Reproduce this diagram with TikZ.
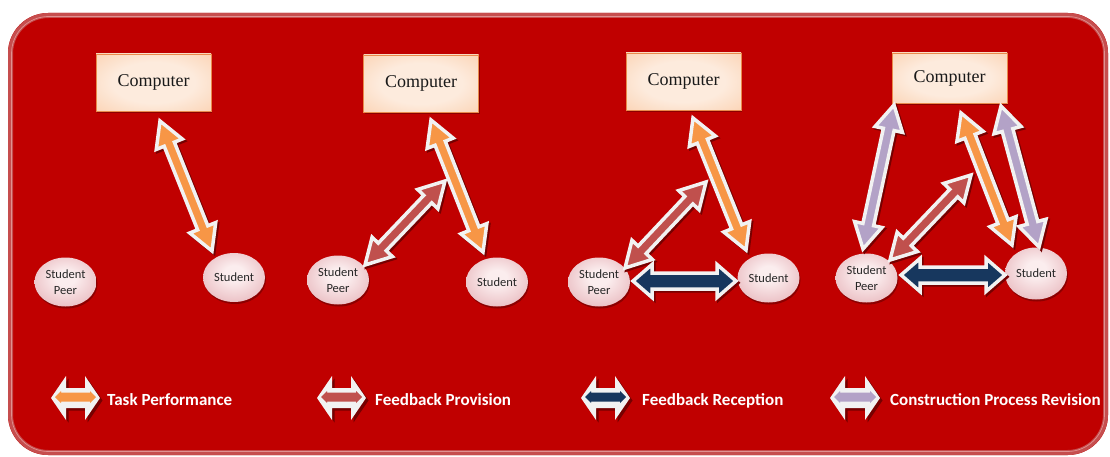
\documentclass[tikz,border=0pt]{standalone}
\usepackage{fontspec}
\setmainfont{Liberation Serif}
\newfontfamily\calib{Carlito}
\usetikzlibrary{calc,shapes.geometric,shadows}

\definecolor{bgred}{HTML}{C00000}
\definecolor{rimred}{RGB}{198,78,78}
\definecolor{rimlight}{RGB}{225,145,145}
\definecolor{arrowwhite}{HTML}{F2F2F2}
\definecolor{taskor}{HTML}{F79646}
\definecolor{fbprov}{HTML}{C0504D}
\definecolor{fbrec}{HTML}{17375E}
\definecolor{cprev}{HTML}{B3A2C7}
\definecolor{shadowred}{RGB}{118,0,0}
\definecolor{ellC}{HTML}{FBEDEE}
\definecolor{ellM}{HTML}{EDC6CA}
\definecolor{ellO}{HTML}{C47A84}
\definecolor{boxC}{HTML}{FDEBDD}
\definecolor{boxM}{HTML}{FBD2B2}
\definecolor{boxO}{HTML}{F7B47E}
\definecolor{boxedge}{HTML}{E98A4C}

\pgfdeclareradialshading{pinkball}{\pgfpoint{0bp}{5bp}}{color(0bp)=(ellC); color(8bp)=(ellC); color(26bp)=(ellM); color(44bp)=(ellO); color(60bp)=(ellO)}
\pgfdeclareradialshading{peachbox}{\pgfpoint{0bp}{0bp}}{color(0bp)=(boxC); color(18bp)=(boxC); color(38bp)=(boxM); color(52bp)=(boxO); color(72bp)=(boxO)}

\newcommand\compfont{\fontsize{18}{20}\selectfont}
\newcommand\studfont{\calib\fontsize{12.5}{15.5}\selectfont}
\newcommand\legfont{\calib\bfseries\fontsize{17}{20}\selectfont}

% double-headed block arrow polygon: #1 tip A, #2 tip B, #3 head length, #4 half head width, #5 half shaft width
\newcommand\arrowpoly[5]{(#1) -- ($(#1)!#3!(#2)!#4!90:(#2)$) -- ($(#1)!#3!(#2)!#5!90:(#2)$) -- ($(#2)!#3!(#1)!#5!-90:(#1)$) -- ($(#2)!#3!(#1)!#4!-90:(#1)$) -- (#2) -- ($(#2)!#3!(#1)!#4!90:(#1)$) -- ($(#2)!#3!(#1)!#5!90:(#1)$) -- ($(#1)!#3!(#2)!#5!-90:(#2)$) -- ($(#1)!#3!(#2)!#4!-90:(#2)$) -- cycle}

\newcommand\dblarrow[6]{%
  \begin{scope}[transform canvas={shift={(1.8,1.8)}}]
    \filldraw[shadowred, line width=3.5pt, line join=miter] \arrowpoly{#2}{#3}{#4}{#5}{#6};
  \end{scope}
  \filldraw[fill=#1, draw=arrowwhite, line width=3.5pt, line join=miter] \arrowpoly{#2}{#3}{#4}{#5}{#6};}

\newcommand\legarrow[5]{%
  \begin{scope}[transform canvas={shift={(2.5,2.5)}}]
    \fill[shadowred] \arrowpoly{#2}{#3}{15pt}{22pt}{10pt};
  \end{scope}
  \fill[arrowwhite] \arrowpoly{#2}{#3}{15pt}{22pt}{10pt};
  \fill[#1] \arrowpoly{#4}{#5}{6pt}{6pt}{4.5pt};}

\tikzset{
  comp/.style={rectangle, minimum width=115pt, minimum height=57pt, inner sep=0pt,
    shade, shading=peachbox, draw=boxedge, line width=0.5pt, font=\compfont, text=black!90,
    drop shadow={shadow xshift=1.2pt, shadow yshift=-1.8pt, fill=shadowred, opacity=0.7}},
  stud/.style={ellipse, minimum width=62pt, minimum height=49pt, inner sep=0pt,
    shade, shading=pinkball, align=center, font=\studfont, text=black!85,
    drop shadow={shadow xshift=1pt, shadow yshift=-2pt, fill=shadowred, opacity=0.7}},
  legtext/.style={font=\legfont, text=white, inner sep=0pt, anchor=base west}
}

\begin{document}
\begin{tikzpicture}[x=1pt, y=-1pt]
\useasboundingbox (0,0) rectangle (1110,457);
\fill[white] (0,0) rectangle (1110,457);

% background panel
\fill[bgred, rounded corners=40pt] (8,13) rectangle (1108,455);
\draw[rimred, line width=5pt, rounded corners=38pt] (10.5,15.5) rectangle (1105.5,452.5);
\draw[rimlight, line width=0.7pt, rounded corners=37pt] (11.5,16.5) rectangle (1104.5,451.5);

% ---------- panel 1 ----------
\node[comp] (c1) at (153.5,82.5) {Computer};
\node[stud] (p1) at (65.5,282) {Student\\Peer};
\node[stud] (s1) at (234,277.5) {Student};
\coordinate (o1a) at (160,121);
\coordinate (o1b) at (212,251);
\dblarrow{taskor}{o1a}{o1b}{25pt}{14pt}{5.5pt}

% ---------- panel 2 ----------
\node[comp] (c2) at (421,83.5) {Computer};
\node[stud] (p2) at (338,280) {Student\\Peer};
\node[stud] (s2) at (497,282) {Student};
\coordinate (b2a) at (445,181);
\coordinate (b2b) at (365,265);
\coordinate (o2a) at (431,120);
\coordinate (o2b) at (483,252);
\dblarrow{fbprov}{b2a}{b2b}{25pt}{14pt}{5.5pt}
\dblarrow{taskor}{o2a}{o2b}{25pt}{14pt}{5.5pt}

% ---------- panel 3 ----------
\node[comp] (c3) at (683.5,81.5) {Computer};
\node[stud] (p3) at (599,282) {Student\\Peer};
\node[stud] (s3) at (768.5,278) {Student};
\coordinate (b3a) at (706,182);
\coordinate (b3b) at (625,268);
\coordinate (o3a) at (693,118);
\coordinate (o3b) at (746,250);
\coordinate (n3a) at (633,281);
\coordinate (n3b) at (736,281);
\dblarrow{fbprov}{b3a}{b3b}{25pt}{14pt}{5.5pt}
\dblarrow{taskor}{o3a}{o3b}{25pt}{14pt}{5.5pt}
\dblarrow{fbrec}{n3a}{n3b}{19pt}{16.5pt}{8pt}

% ---------- panel 4 ----------
\node[comp, minimum height=50pt] (c4) at (949.5,78) {Computer};
\node[stud] (p4) at (866.5,278) {Student\\Peer};
\node[stud, minimum height=52pt] (s4) at (1036,273.5) {Student};
\coordinate (l4a) at (894,105);
\coordinate (l4b) at (863,249);
\coordinate (b4a) at (971,175);
\coordinate (b4b) at (890,260);
\coordinate (o4a) at (961,113);
\coordinate (o4b) at (1012,245);
\coordinate (r4a) at (1001,106);
\coordinate (r4b) at (1039,247);
\coordinate (n4a) at (901,275);
\coordinate (n4b) at (1005,275);
\dblarrow{cprev}{l4a}{l4b}{25pt}{14pt}{5.5pt}
\dblarrow{fbprov}{b4a}{b4b}{25pt}{14pt}{5.5pt}
\dblarrow{taskor}{o4a}{o4b}{25pt}{14pt}{5.5pt}
\dblarrow{cprev}{r4a}{r4b}{25pt}{14pt}{5.5pt}
\dblarrow{fbrec}{n4a}{n4b}{19pt}{16.5pt}{8pt}

% ---------- legend ----------
\coordinate (la1) at (51,398);  \coordinate (lb1) at (100,398);
\coordinate (ia1) at (55,397);  \coordinate (ib1) at (96,397);
\legarrow{taskor}{la1}{lb1}{ia1}{ib1}
\node[legtext] (t1) at (107,405) {Task Performance};

\coordinate (la2) at (317,398); \coordinate (lb2) at (366,398);
\coordinate (ia2) at (321,397); \coordinate (ib2) at (362,397);
\legarrow{fbprov}{la2}{lb2}{ia2}{ib2}
\node[legtext] (t2) at (375,405) {Feedback Provision};

\coordinate (la3) at (581,398); \coordinate (lb3) at (630,398);
\coordinate (ia3) at (585,397); \coordinate (ib3) at (626,397);
\legarrow{fbrec}{la3}{lb3}{ia3}{ib3}
\node[legtext] (t3) at (642,405) {Feedback Reception};

\coordinate (la4) at (830,398); \coordinate (lb4) at (880,398);
\coordinate (ia4) at (834,397); \coordinate (ib4) at (876,397);
\legarrow{cprev}{la4}{lb4}{ia4}{ib4}
\node[legtext] (t4) at (890,405) {Construction Process Revision};
\end{tikzpicture}
\end{document}
